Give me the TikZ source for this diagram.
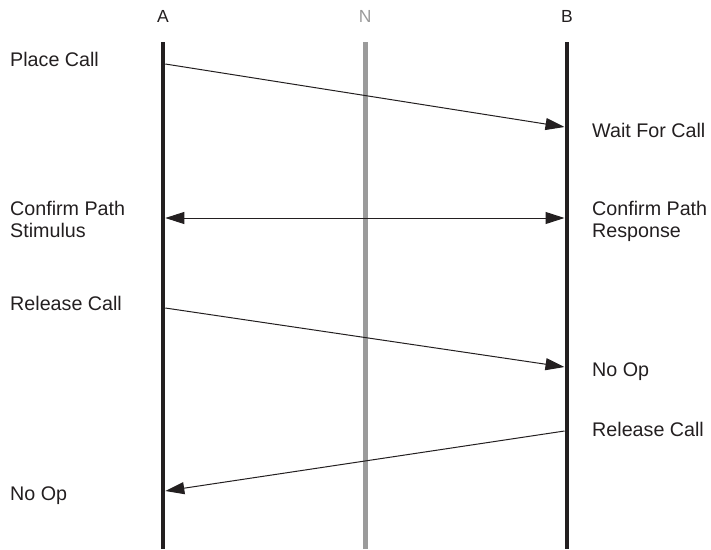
\documentclass[tikz,border=0pt]{standalone}
\usepackage{fontspec}
\setmainfont{Liberation Sans}
\usetikzlibrary{arrows.meta}
\definecolor{ink}{HTML}{231F20}
\definecolor{midgray}{HTML}{9B9B9B}
\begin{document}
\begin{tikzpicture}[x=1pt,y=-1pt,
  lifeline/.style={line width=4.5pt,draw=ink},
  nline/.style={line width=4.5pt,draw=midgray},
  head/.style={font=\fontsize{17.5}{20}\selectfont,text=ink,anchor=base,inner sep=0pt},
  msgtext/.style={font=\fontsize{19.7}{21.7}\selectfont,text=ink,anchor=base west,inner sep=0pt,align=left},
  msg/.style={draw=ink,line width=1pt,-{Triangle[length=19pt,width=12pt]}},
  dmsg/.style={draw=ink,line width=1pt,{Triangle[length=19pt,width=12pt]}-{Triangle[length=19pt,width=12pt]}}]
\useasboundingbox (0,0) rectangle (711,549);
% lifeline heads
\node[head] (hA) at (163,22) {A};
\node[head,text=midgray] (hN) at (365.3,22) {N};
\node[head] (hB) at (567,22) {B};
% lifelines
\coordinate (At) at (163,42); \coordinate (Ab) at (163,549);
\coordinate (Nt) at (365.3,42); \coordinate (Nb) at (365.3,549);
\coordinate (Bt) at (567,42); \coordinate (Bb) at (567,549);
\draw[lifeline] (At) -- (Ab);
\draw[nline] (Nt) -- (Nb);
\draw[lifeline] (Bt) -- (Bb);
% message endpoints
\coordinate (m1s) at (165.3,64);  \coordinate (m1e) at (564.5,127);
\coordinate (m2s) at (165.3,218); \coordinate (m2e) at (564.5,218);
\coordinate (m3s) at (165.3,308); \coordinate (m3e) at (564.5,367);
\coordinate (m4s) at (564.5,431); \coordinate (m4e) at (165.3,491);
\draw[msg] (m1s) -- (m1e);
\draw[dmsg] (m2s) -- (m2e);
\draw[msg] (m3s) -- (m3e);
\draw[msg] (m4s) -- (m4e);
% labels
\node[msgtext] (t1) at (10,66.7) {Place Call};
\node[msgtext] (t2) at (592,137.3) {Wait For Call};
\node[msgtext] (t3) at (10,237.5) {Confirm Path\\Stimulus};
\node[msgtext] (t4) at (592,237.5) {Confirm Path\\Response};
\node[msgtext] (t5) at (10,310) {Release Call};
\node[msgtext] (t6) at (592,376.5) {No Op};
\node[msgtext] (t7) at (592,436.5) {Release Call};
\node[msgtext] (t8) at (10,500.5) {No Op};
\end{tikzpicture}
\end{document}
